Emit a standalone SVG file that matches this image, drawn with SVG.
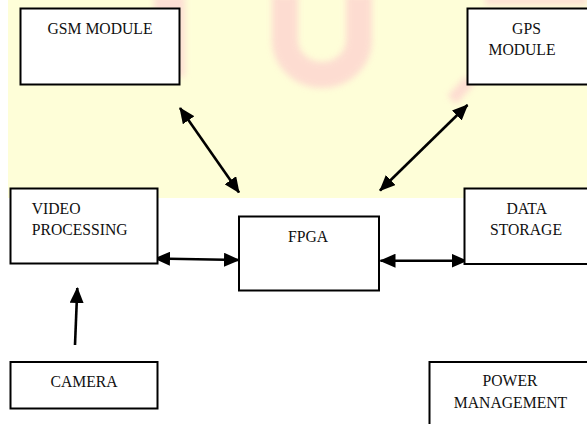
<svg xmlns="http://www.w3.org/2000/svg" width="587" height="424" viewBox="0 0 587 424">
  <style>
    .box { fill: #ffffff; stroke: #000000; stroke-width: 2; }
    .lbl { font-family: "Liberation Serif", "Times New Roman", serif; font-size: 15.7px; fill: #111111; }
    .mid { text-anchor: middle; }
    .conn { stroke: #000000; stroke-width: 2.6; fill: none; }
    .wm { fill: none; stroke: #fdcfcf; }
  </style>
  <defs>
    <marker id="ah" viewBox="0 0 16 14" refX="15" refY="7" markerWidth="16" markerHeight="14" markerUnits="userSpaceOnUse" orient="auto-start-reverse">
      <path d="M0,0 L16,7 L0,14 Z" fill="#000000"/>
    </marker>
    <filter id="blur" x="-20%" y="-20%" width="140%" height="140%">
      <feGaussianBlur stdDeviation="3"/>
    </filter>
  </defs>

  <rect x="0" y="0" width="587" height="424" fill="#ffffff"/>
  <g id="background">
    <rect x="8" y="0" width="579" height="198" fill="#fefed8"/>
    <g filter="url(#blur)" opacity="0.7">
      <path class="wm" stroke-width="26" d="M285,-5 V40 A37,35 0 0 0 359,40 V-5"/>
      <rect x="154" y="-5" width="31" height="82" fill="#fdd3d3"/>
      <path class="wm" stroke-width="12" d="M452,100 L470,80"/>
      <rect x="485" y="-5" width="102" height="10" fill="#fdd3d3"/>
    </g>
  </g>

  <g id="connectors">
    <line class="conn" x1="180" y1="108" x2="239" y2="192.5" marker-start="url(#ah)" marker-end="url(#ah)"/>
    <line class="conn" x1="467.5" y1="105" x2="380" y2="190.5" marker-start="url(#ah)" marker-end="url(#ah)"/>
    <line class="conn" x1="155" y1="258.5" x2="239" y2="260" marker-start="url(#ah)" marker-end="url(#ah)"/>
    <line class="conn" x1="380.5" y1="260.7" x2="466.5" y2="260.7" marker-start="url(#ah)" marker-end="url(#ah)"/>
    <line class="conn" x1="75" y1="345" x2="77.3" y2="288" marker-end="url(#ah)"/>
  </g>

  <g id="gsm-module">
    <rect class="box" x="20.5" y="8.5" width="159" height="76"/>
    <text class="lbl mid" x="100" y="33.5">GSM MODULE</text>
  </g>

  <g id="gps-module">
    <rect class="box" x="467.5" y="8.5" width="125" height="76"/>
    <text class="lbl mid" x="526.5" y="34">GPS</text>
    <text class="lbl mid" x="522" y="55">MODULE</text>
  </g>

  <g id="video-processing">
    <rect class="box" x="10.5" y="188.5" width="147" height="75"/>
    <text class="lbl" x="31.7" y="214">VIDEO</text>
    <text class="lbl" x="31.7" y="235">PROCESSING</text>
  </g>

  <g id="fpga">
    <rect class="box" x="239" y="216.5" width="140" height="74"/>
    <text class="lbl" x="288" y="241.7">FPGA</text>
  </g>

  <g id="data-storage">
    <rect class="box" x="464.5" y="188.5" width="128" height="75.5"/>
    <text class="lbl mid" x="526.7" y="214">DATA</text>
    <text class="lbl mid" x="526" y="235">STORAGE</text>
  </g>

  <g id="camera">
    <rect class="box" x="10.5" y="362" width="147" height="46.5"/>
    <text class="lbl mid" x="84" y="386.7">CAMERA</text>
  </g>

  <g id="power-management">
    <rect class="box" x="429.5" y="362" width="163" height="70"/>
    <text class="lbl mid" x="510" y="385.7">POWER</text>
    <text class="lbl mid" x="510.5" y="408.3">MANAGEMENT</text>
  </g>
</svg>
